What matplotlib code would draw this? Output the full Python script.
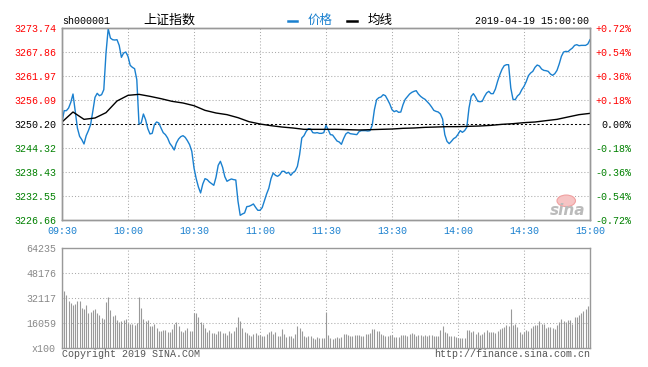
# -*- coding: utf-8 -*-
"""
    上证指数 2019-04-19 分时图：价格、均线和成交量
"""
import numpy as np
import matplotlib
matplotlib.use('Agg')
import matplotlib.pyplot as plt
from matplotlib.lines import Line2D
from matplotlib.patches import Ellipse

plt.rcParams['font.family'] = ['Liberation Mono', 'Noto Sans CJK SC', 'DejaVu Sans']

# 昨收与坐标轴刻度
prev_close = 3250.20
price_ticks = [3226.66, 3232.55, 3238.43, 3244.32, 3250.20, 3256.09, 3261.97, 3267.86, 3273.74]
price_tick_labels = ['3226.66', '3232.55', '3238.43', '3244.32', '3250.20',
                     '3256.09', '3261.97', '3267.86', '3273.74']
pct_tick_labels = ['-0.72%', '-0.54%', '-0.36%', '-0.18%', '0.00%',
                   '+0.18%', '+0.36%', '+0.54%', '+0.72%']
time_tick_labels = ['09:30', '10:00', '10:30', '11:00', '11:30', '13:30', '14:00', '14:30', '15:00']
vol_ticks = [0, 16059, 32117, 48176, 64235]
vol_tick_labels = ['x100', '16059', '32117', '48176', '64235']

# 每分钟价格（09:30-11:30, 13:01-15:00）
price = [
    3250.69, 3253.47, 3253.47, 3254.12, 3255.51, 3257.55, 3253.47, 3249.22, 3247.18, 3246.36,
    3245.30, 3247.34, 3248.57, 3250.04, 3253.30, 3256.74, 3257.72, 3257.14, 3257.39, 3258.62,
    3267.60, 3273.57, 3271.28, 3270.87, 3270.79, 3270.87, 3269.48, 3266.54, 3267.60, 3267.85,
    3266.79, 3264.58, 3264.09, 3263.76, 3261.07, 3250.20, 3250.45, 3252.65, 3251.26, 3249.06,
    3247.75, 3247.91, 3250.04, 3250.69, 3250.45, 3249.22, 3248.08, 3247.59, 3246.77, 3245.46,
    3244.73, 3243.83, 3245.54, 3246.52, 3247.10, 3247.34, 3246.93, 3246.11, 3245.13, 3243.50,
    3239.42, 3236.80, 3234.76, 3233.29, 3235.49, 3236.80, 3236.56, 3235.98, 3235.58, 3235.17,
    3237.13, 3240.07, 3241.05, 3239.58, 3237.29, 3236.15, 3236.47, 3236.72, 3236.56, 3236.47,
    3231.25, 3227.81, 3228.14, 3228.39, 3229.94, 3230.02, 3230.27, 3230.59, 3229.77, 3229.04,
    3229.04, 3229.69, 3231.41, 3233.04, 3234.43, 3236.80, 3238.19, 3237.62, 3237.37, 3237.78,
    3238.60, 3238.60, 3238.11, 3238.35, 3237.62, 3238.27, 3238.68, 3239.82, 3242.68, 3246.77,
    3247.34, 3248.40, 3249.06, 3248.97, 3248.08, 3247.99, 3248.08, 3247.91, 3247.91, 3248.08,
    3249.87, 3248.81, 3247.59, 3247.50, 3246.77, 3246.03, 3245.79, 3245.22, 3246.61, 3247.75,
    3248.16, 3247.83, 3247.75, 3247.67, 3247.59, 3248.32, 3248.57, 3248.57, 3248.57, 3248.48,
    3248.57, 3249.87, 3253.71, 3256.16, 3256.65, 3256.82, 3257.39, 3257.14, 3256.16, 3255.10,
    3253.71, 3253.22, 3253.47, 3253.06, 3253.14, 3254.94, 3256.25, 3256.90, 3257.55, 3257.96,
    3258.21, 3258.37, 3257.55, 3256.98, 3256.57, 3256.25, 3255.67, 3255.10, 3254.37, 3253.55,
    3253.30, 3253.14, 3252.65, 3251.43, 3247.59, 3245.95, 3245.38, 3245.95, 3246.61, 3246.93,
    3247.67, 3248.57, 3248.16, 3248.57, 3249.38, 3254.12, 3256.98, 3257.64, 3256.82, 3255.76,
    3255.67, 3255.76, 3256.90, 3257.80, 3258.21, 3257.64, 3257.64, 3258.78, 3260.66, 3262.29,
    3263.60, 3264.50, 3264.74, 3264.74, 3259.02, 3256.25, 3256.16, 3257.06, 3257.55, 3258.62,
    3259.43, 3260.58, 3262.05, 3262.70, 3263.11, 3264.09, 3264.66, 3264.42, 3263.68, 3263.35,
    3263.27, 3263.11, 3262.46, 3262.13, 3262.54, 3263.35, 3264.91, 3266.79, 3267.85, 3268.01,
    3267.93, 3268.42, 3268.83, 3269.48, 3269.65, 3269.40, 3269.48, 3269.48, 3269.48, 3269.81,
    3270.87,
]

# 均线，每5分钟读一个值
avg_price = [
    3250.69, 3253.14, 3251.34, 3251.67, 3252.98, 3255.84, 3257.23, 3257.47, 3256.98, 3256.41,
    3255.76, 3255.35, 3254.69, 3253.55, 3252.90, 3252.49, 3251.75, 3250.77, 3250.20, 3249.79,
    3249.46, 3249.22, 3248.89, 3248.89, 3248.89, 3248.89, 3248.81, 3248.73, 3248.81, 3248.89,
    3248.97, 3249.14, 3249.22, 3249.38, 3249.46, 3249.55, 3249.55, 3249.63, 3249.71, 3249.87,
    3250.12, 3250.28, 3250.53, 3250.69, 3251.02, 3251.34, 3251.92, 3252.49, 3252.81,
]

# 每分钟成交量（单位：100股）
volume = [
    64235, 36600, 34000, 30400, 28900, 27600, 28200, 30200, 30200, 25700,
    25000, 27600, 22500, 23300, 24200, 25000, 22500, 21200, 19500, 18600,
    29300, 32700, 24400, 20500, 21200, 18000, 16500, 17300, 18200, 18600,
    16000, 15600, 15600, 14800, 16000, 32700, 25900, 18600, 17300, 18000,
    14300, 14300, 15600, 13000, 10900, 10900, 11600, 11600, 10000, 10000,
    12200, 15600, 16500, 13900, 10900, 10000, 11600, 12600, 10900, 10900,
    22300, 22300, 19900, 16500, 15600, 13000, 10500, 11300, 9800, 9600,
    8800, 10900, 10900, 9600, 9600, 8300, 10900, 9600, 10900, 13500,
    19900, 17300, 13000, 10500, 9600, 8300, 7700, 8800, 9600, 8300,
    8300, 7900, 7900, 8800, 10000, 10900, 8800, 10000, 7500, 7500,
    12200, 8800, 7100, 7500, 7500, 6200, 8800, 14100, 12800, 10900,
    7500, 7100, 7500, 7500, 6200, 5600, 7100, 6600, 6200, 6600,
    23300, 8300, 6600, 5800, 6600, 7100, 6600, 7100, 8800, 9200,
    8300, 7900, 7900, 8300, 8300, 8300, 7900, 7900, 8800, 8800,
    9600, 12200, 12200, 10900, 10900, 9200, 8300, 7900, 7900, 8300,
    8300, 7100, 7100, 7100, 8300, 8300, 8300, 7900, 8800, 9600,
    8800, 7900, 8300, 8300, 7900, 8300, 7900, 8300, 8300, 7900,
    7900, 7900, 11800, 14300, 10500, 9600, 7900, 7900, 7900, 7100,
    6600, 6200, 6200, 6200, 11300, 11800, 10000, 10900, 9200, 10000,
    8300, 8800, 10500, 11800, 10500, 10500, 10000, 9600, 10900, 12200,
    13000, 13700, 14800, 13900, 25000, 14800, 15600, 13500, 10000, 9200,
    10000, 11300, 10900, 12600, 14300, 14800, 14800, 17300, 15600, 15200,
    12600, 13500, 13500, 13000, 12200, 14800, 16500, 18600, 17300, 16900,
    17800, 17800, 15600, 19900, 19900, 21400, 22500, 24000, 25300, 27200,
    2800,
]

W, H = 648, 367
BLUE = '#1a80cf'
RED = '#ff0000'
GREEN = '#008000'
GRID = '#aaaaaa'
SPINE = '#999999'


def px_box(left, top, right, bottom):
    """像素位置 -> figure 坐标"""
    return [left / W, 1 - bottom / H, (right - left) / W, (bottom - top) / H]


def style_axes(ax):
    for sp in ax.spines.values():
        sp.set_color(SPINE)
        sp.set_linewidth(1.0)


def label_color(v):
    if v > prev_close + 1e-6:
        return RED
    if v < prev_close - 1e-6:
        return GREEN
    return 'black'


def draw_price(fig, minutes, time_ticks):
    ax = fig.add_axes(px_box(62, 28, 590, 220))
    # 网格
    for y in price_ticks[1:-1]:
        if abs(y - prev_close) > 1e-6:
            ax.axhline(y, color=GRID, lw=0.75, ls=(0, (1, 2)), zorder=1)
    for x in time_ticks[1:-1]:
        ax.axvline(x, color=GRID, lw=0.75, ls=(0, (1, 2)), zorder=1)
    ax.axhline(prev_close, color='black', lw=0.75, ls=(0, (2, 2)), zorder=2)

    ax.plot(minutes, price, color=BLUE, lw=1.0, zorder=3)
    avg_x = np.arange(0, 241, 5)
    ax.plot(avg_x, avg_price, color='black', lw=1.0, zorder=3)

    ax.set_xlim(0, 240)
    ax.set_ylim(price_ticks[0], price_ticks[-1])
    ax.set_xticks(time_ticks)
    ax.set_xticklabels(time_tick_labels, color=BLUE, fontsize=7.2)
    ax.set_yticks(price_ticks)
    ax.set_yticklabels(price_tick_labels, fontsize=7.2)
    ax.tick_params(axis='both', length=0)
    ax.tick_params(axis='y', pad=4.3)
    ax.tick_params(axis='x', pad=4)
    for lbl, v in zip(ax.get_yticklabels(), price_ticks):
        lbl.set_color(label_color(v))
    style_axes(ax)

    axr = ax.twinx()
    axr.set_ylim(price_ticks[0], price_ticks[-1])
    axr.set_yticks(price_ticks)
    axr.set_yticklabels(pct_tick_labels, fontsize=7.2, ha='right')
    axr.tick_params(axis='y', length=0, pad=29.5)
    for lbl, v in zip(axr.get_yticklabels(), price_ticks):
        lbl.set_color(label_color(v))
    style_axes(axr)

    # 新浪水印
    ax.add_patch(Ellipse((0.955, 0.1), 0.035, 0.06, transform=ax.transAxes,
                         facecolor='#f6c4c4', edgecolor='#f0a0a0', lw=0.8, zorder=2))
    ax.text(0.957, 0.05, 'sina', transform=ax.transAxes, ha='center', va='center',
            fontsize=11, fontstyle='italic', fontweight='bold', color='#bbbbbb',
            family=['DejaVu Sans'], zorder=2)


def draw_volume(fig, minutes, time_ticks):
    ax = fig.add_axes(px_box(62, 248, 590, 348))
    for y in vol_ticks[1:-1]:
        ax.axhline(y, color=GRID, lw=0.75, ls=(0, (1, 2)), zorder=1)
    for x in time_ticks[1:-1]:
        ax.axvline(x, color=GRID, lw=0.75, ls=(0, (1, 2)), zorder=1)
    ax.vlines(minutes, 0, volume, color='#999999', lw=0.8, zorder=2)

    ax.set_xlim(0, 240)
    ax.set_ylim(vol_ticks[0], vol_ticks[-1])
    ax.set_xticks([])
    ax.set_yticks(vol_ticks)
    ax.set_yticklabels(vol_tick_labels, fontsize=7.2, color='#888888')
    ax.tick_params(axis='y', length=0, pad=4.3)
    style_axes(ax)


def draw_header_footer(fig):
    y = 1 - 20.5 / H
    fig.text(62 / W, y, 'sh000001', fontsize=7.2, va='center')
    fig.text(143 / W, y, '上证指数', fontsize=9.4, va='center', family=['Noto Sans CJK SC'])
    fig.add_artist(Line2D([288 / W, 297 / W], [y, y], color=BLUE, lw=1.8))
    fig.text(308 / W, y, '价格', fontsize=9, va='center', color=BLUE, family=['Noto Sans CJK SC'])
    fig.add_artist(Line2D([347 / W, 357 / W], [y, y], color='black', lw=1.8))
    fig.text(368 / W, y, '均线', fontsize=9, va='center', family=['Noto Sans CJK SC'])
    fig.text(589 / W, y, '2019-04-19 15:00:00', fontsize=7.2, va='center', ha='right')

    yb = 1 - 354 / H
    fig.text(62 / W, yb, 'Copyright 2019 SINA.COM', fontsize=7.2, va='center', color='#555555')
    fig.text(590 / W, yb, 'http://finance.sina.com.cn', fontsize=7.2, va='center',
             ha='right', color='#555555')


def main():
    minutes = np.arange(len(price))
    time_ticks = np.arange(0, 241, 30)

    fig = plt.figure(figsize=(W / 100, H / 100), dpi=100)
    draw_price(fig, minutes, time_ticks)
    draw_volume(fig, np.arange(len(volume)), time_ticks)
    draw_header_footer(fig)

    fig.savefig('out.png', dpi=100)


if __name__ == '__main__':
    main()
